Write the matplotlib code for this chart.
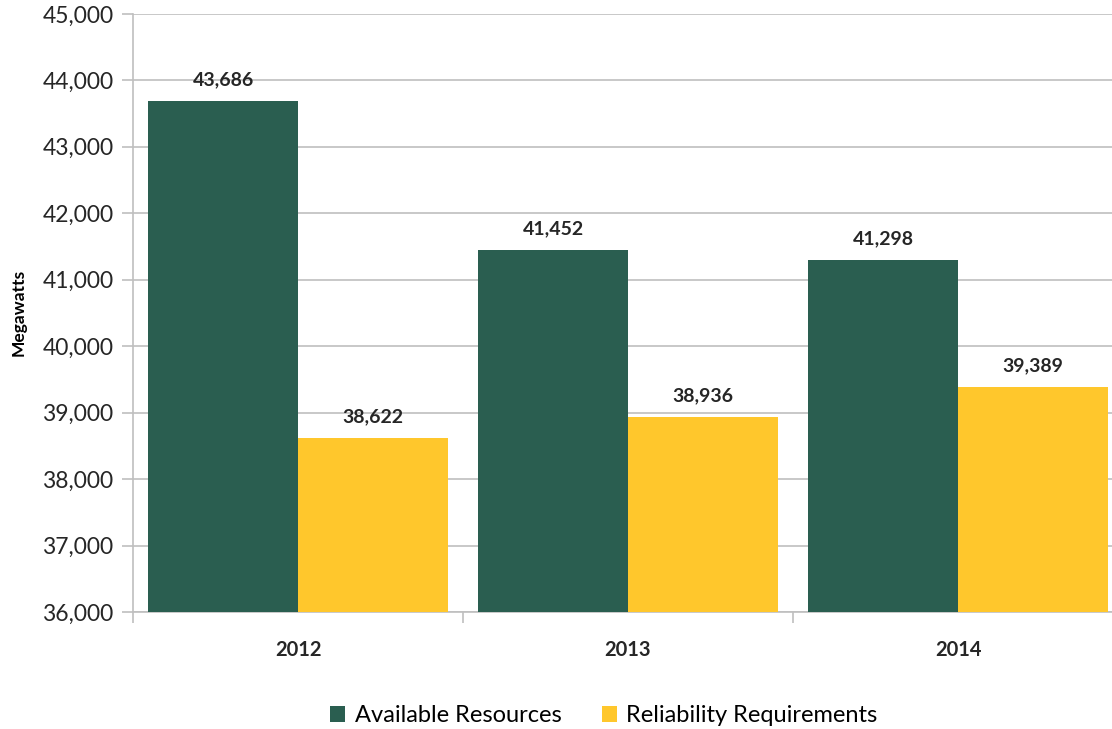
import matplotlib.pyplot as plt
import numpy as np

plt.rcParams['font.family'] = ['Lato', 'DejaVu Sans']

years = ['2012', '2013', '2014']
available = [43686, 41452, 41298]
reliability = [38622, 38936, 39389]

green = '#2a5e50'
yellow = '#ffc72c'
grid_gray = '#bfbfbf'

fig = plt.figure(figsize=(11.12, 7.29), dpi=100)
# the last category runs slightly past the right edge of the figure
ax = fig.add_axes([133 / 1112, 0.1605, 990 / 1112, 0.8205])

x = np.arange(len(years))
w = 150 / 330
b1 = ax.bar(x - w / 2, available, w, color=green, label='Available Resources', zorder=3)
b2 = ax.bar(x + w / 2, reliability, w, color=yellow, label='Reliability Requirements', zorder=3)

for bars, vals in ((b1, available), (b2, reliability)):
    for r, v in zip(bars, vals):
        ax.text(r.get_x() + r.get_width() / 2, v + 190, f'{v:,}',
                ha='center', va='bottom', fontsize=14, fontweight='bold', color='#262626')

ax.set_ylim(36000, 45000)
ax.set_xlim(-0.5, 2.5)
ax.set_yticks(range(36000, 45001, 1000))
ax.set_yticklabels([f'{v:,}' for v in range(36000, 45001, 1000)], fontsize=16.5, color='#262626')
ax.yaxis.grid(True, color=grid_gray, linewidth=1.2, zorder=0)
ax.tick_params(axis='y', length=8, width=1.2, color=grid_gray, pad=6)

# group boundaries as minor ticks, labels at the centers
ax.set_xticks(x)
ax.set_xticklabels(years, fontsize=14.5, fontweight='bold', color='#262626')
ax.tick_params(axis='x', which='major', length=0, pad=20)
ax.set_xticks([-0.5, 0.5, 1.5, 2.5], minor=True)
ax.tick_params(axis='x', which='minor', length=8, width=1.2, color=grid_gray)

for s in ('top', 'right'):
    ax.spines[s].set_visible(False)
for s in ('left', 'bottom'):
    ax.spines[s].set_color(grid_gray)
    ax.spines[s].set_linewidth(1.2)

ax.set_ylabel('Megawatts', fontsize=12.5, fontweight='bold', labelpad=11)

fig.legend(handles=[b1, b2], loc='center', bbox_to_anchor=(0.543, 0.018), ncol=2,
           frameon=False, fontsize=17, handlelength=0.65, handleheight=0.65,
           handletextpad=0.4, columnspacing=1.7)

fig.savefig('out.png', dpi=100)
